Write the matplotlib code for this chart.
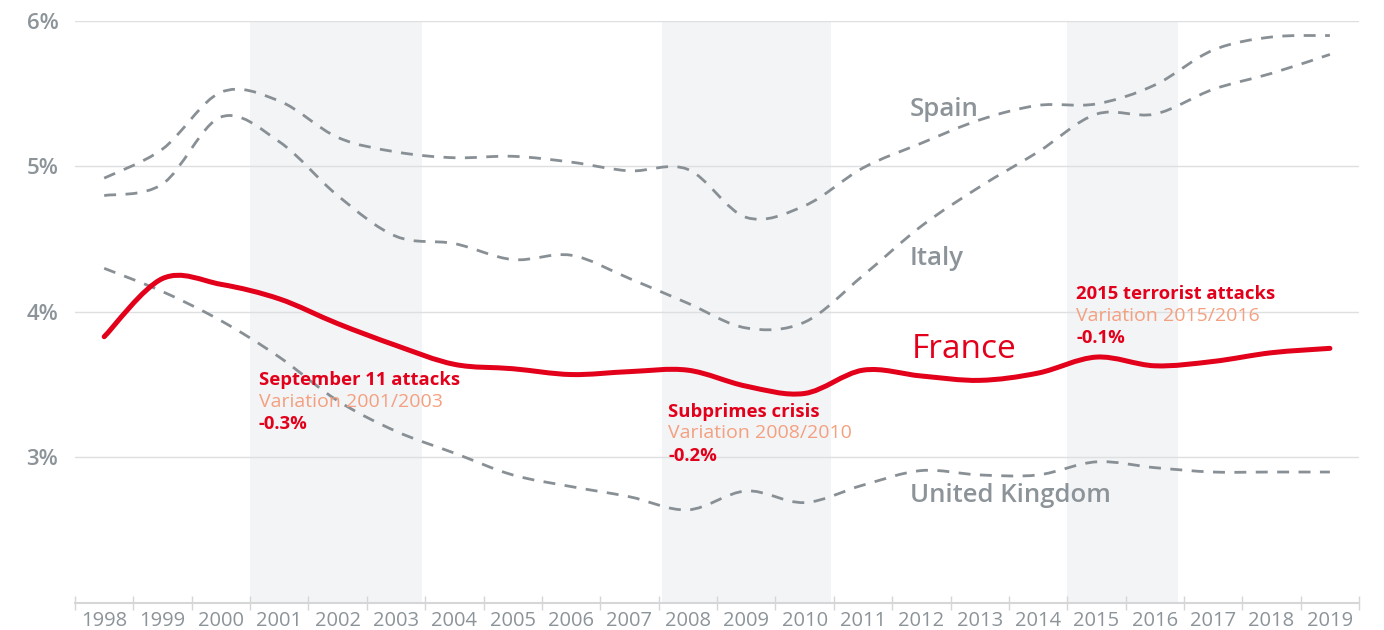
import numpy as np
import matplotlib.pyplot as plt
from matplotlib.path import Path
from matplotlib.patches import PathPatch

plt.rcParams.update({
    "font.family": ["Open Sans", "DejaVu Sans"],
})

# Public spending share (% of GDP), 1998-2019
years = list(range(1998, 2020))
france = [3.83, 4.23, 4.19, 4.09, 3.92, 3.77, 3.64, 3.61, 3.57, 3.59, 3.60, 3.49,
          3.44, 3.60, 3.56, 3.53, 3.58, 3.69, 3.63, 3.66, 3.72, 3.75]
spain = [4.92, 5.12, 5.51, 5.45, 5.20, 5.10, 5.06, 5.07, 5.03, 4.97, 4.98, 4.65,
         4.73, 4.99, 5.16, 5.32, 5.42, 5.43, 5.56, 5.80, 5.89, 5.90]
italy = [4.80, 4.88, 5.34, 5.17, 4.80, 4.52, 4.47, 4.36, 4.39, 4.23, 4.06, 3.89,
         3.93, 4.25, 4.59, 4.86, 5.10, 5.36, 5.36, 5.53, 5.64, 5.77]
uk = [4.30, 4.14, 3.94, 3.69, 3.39, 3.18, 3.03, 2.88, 2.80, 2.73, 2.64, 2.77,
      2.69, 2.81, 2.91, 2.88, 2.88, 2.97, 2.93, 2.90, 2.90, 2.90]

# crisis periods (shaded) and their notes
crisis_spans = [(2000.5, 2003.45), (2007.55, 2010.45), (2014.5, 2016.4)]
crisis_titles = ["September 11 attacks", "Subprimes crisis", "2015 terrorist attacks"]
crisis_periods = ["Variation 2001/2003", "Variation 2008/2010", "Variation 2015/2016"]
crisis_changes = ["-0.3%", "-0.2%", "-0.1%"]

y_ticks = [3, 4, 5, 6]
y_labels = ["3%", "4%", "5%", "6%"]

RED = "#e2001a"
SALMON = "#f4a080"
GREY_TXT = "#8c9499"
GREY_LINE = "#899095"


def smooth_path(xs, ys, tension=0.5):
    """Cardinal spline through the points, as cubic Bezier segments."""
    pts = np.column_stack([xs, ys]).astype(float)
    n = len(pts)
    verts = [pts[0]]
    codes = [Path.MOVETO]
    for i in range(n - 1):
        p0 = pts[max(i - 1, 0)]
        p1 = pts[i]
        p2 = pts[i + 1]
        p3 = pts[min(i + 2, n - 1)]
        c1 = p1 + (p2 - p0) * tension / 3
        c2 = p2 - (p3 - p1) * tension / 3
        verts += [c1, c2, p2]
        codes += [Path.CURVE4] * 3
    return Path(verts, codes)


fig = plt.figure(figsize=(13.84, 6.30), dpi=100)
ax = fig.add_axes([0.0542, 0.0429, 0.9278, 0.9238])

for x0, x1 in crisis_spans:
    ax.axvspan(x0, x1, color="#f3f4f6", zorder=0, lw=0)

for y in y_ticks:
    ax.axhline(y, color="#dedfe1", lw=1, zorder=1)

for series in (spain, italy, uk):
    ax.add_patch(PathPatch(smooth_path(years, series), fill=False,
                           edgecolor=GREY_LINE, lw=2.0,
                           linestyle=(0, (4.3, 3.4)), zorder=2))

ax.add_patch(PathPatch(smooth_path(years, france), fill=False,
                       edgecolor=RED, lw=3.6, capstyle="round",
                       joinstyle="round", zorder=3))

# country labels
ax.text(2011.8, 5.39, "Spain", color=GREY_TXT, fontsize=18.5, fontweight="semibold", va="center")
ax.text(2011.8, 4.37, "Italy", color=GREY_TXT, fontsize=18.5, fontweight="semibold", va="center")
ax.text(2011.8, 2.74, "United Kingdom", color=GREY_TXT, fontsize=18.5, fontweight="semibold", va="center")
ax.text(2011.84, 3.74, "France", color=RED, fontsize=24, va="center")

# crisis notes
note_pos = [(2000.65, 3.534), (2007.66, 3.315), (2014.65, 4.123)]
for (nx, ny), title, period, change in zip(note_pos, crisis_titles, crisis_periods, crisis_changes):
    ax.text(nx, ny, title, color=RED, fontsize=13.3, fontweight="bold", va="center")
    ax.text(nx, ny - 0.15, period, color=SALMON, fontsize=14, fontweight="medium", va="center")
    ax.text(nx, ny - 0.305, change, color=RED, fontsize=13.3, fontweight="bold", va="center")

ax.set_xlim(1997.5, 2019.5)
ax.set_ylim(2.0, 6.0)

ax.set_xticks(np.arange(1997.5, 2020, 1))
ax.set_xticklabels([])
ax.set_xticks(years, minor=True)
ax.set_xticklabels([str(y) for y in years], minor=True)
ax.tick_params(axis="x", which="major", direction="inout", length=10, color="#d5d6d8", width=1)
ax.tick_params(axis="x", which="minor", length=0, pad=6, labelsize=14.5, labelcolor=GREY_TXT)

ax.set_yticks(y_ticks)
ax.set_yticklabels(y_labels)
ax.tick_params(axis="y", length=0, pad=12, labelsize=16, labelcolor=GREY_TXT)
for lab in ax.get_yticklabels():
    lab.set_fontweight("semibold")

for side in ("top", "right", "left"):
    ax.spines[side].set_visible(False)
ax.spines["bottom"].set_color("#d5d6d8")
ax.spines["bottom"].set_linewidth(1.5)

fig.savefig("out.png", dpi=100)
